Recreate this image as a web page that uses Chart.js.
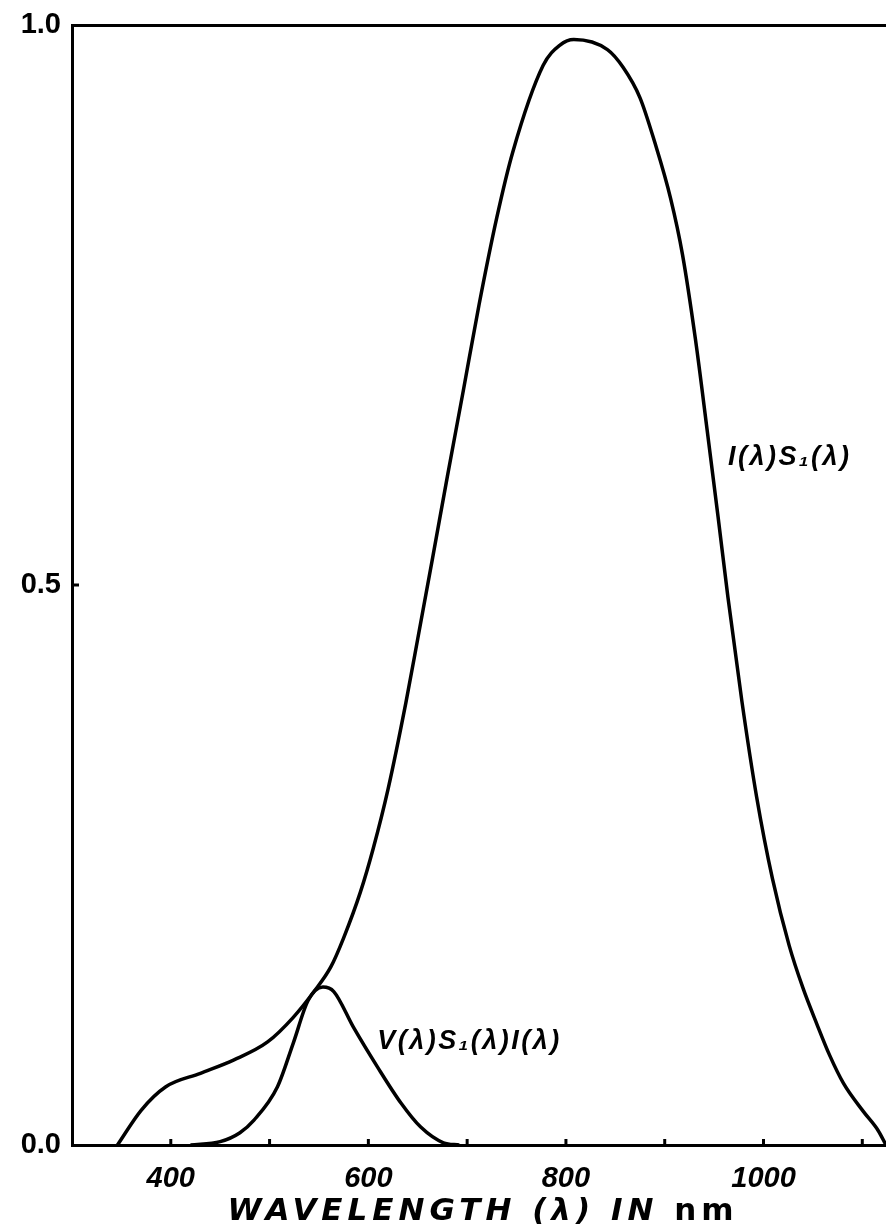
<!DOCTYPE html>
<html>
<head>
<meta charset="utf-8">
<script src="https://cdn.jsdelivr.net/npm/chart.js@4/dist/chart.umd.min.js"></script>
<style>
  html, body { margin: 0; padding: 0; background: #fff; }
  #chart { display: block; }
</style>
</head>
<body>
<canvas id="chart" width="886" height="1229"></canvas>
<script>
// wavelengths (nm) and relative values
var isWavelengths = [346, 370, 395, 430, 464, 498, 524, 545, 562, 575, 592, 605, 620, 638, 650, 665, 680, 696, 712, 730, 746, 777, 794, 808, 842, 858, 875, 890, 906, 918, 931, 943, 954, 964, 978, 993, 1009, 1026, 1040, 1054, 1067, 1081, 1101, 1116, 1124];
var isValues = [0, 0.031, 0.052, 0.064, 0.076, 0.092, 0.114, 0.137, 0.159, 0.185, 0.226, 0.265, 0.318, 0.395, 0.452, 0.524, 0.597, 0.673, 0.750, 0.828, 0.886, 0.964, 0.982, 0.987, 0.978, 0.962, 0.935, 0.895, 0.845, 0.795, 0.720, 0.638, 0.561, 0.489, 0.397, 0.311, 0.238, 0.178, 0.140, 0.108, 0.080, 0.055, 0.030, 0.013, 0];

var vsiWavelengths = [420, 450, 470, 484, 508, 524, 539, 554, 565, 585, 609, 633, 653, 676, 692];
var vsiValues = [0, 0.003, 0.011, 0.022, 0.052, 0.091, 0.129, 0.141, 0.137, 0.105, 0.070, 0.0375, 0.016, 0.002, 0];

var xTickLabels = [400, 600, 800, 1000];
var xTickMarks = [400, 500, 600, 700, 800, 900, 1000, 1100];
var yTickLabels = [0, 0.5, 1.0];

var curveLabels = [
    { text: 'I(λ)S₁(λ)', x: 964, y: 0.614 },
    { text: 'V(λ)S₁(λ)I(λ)', x: 609, y: 0.092 }
];
var axisTitle = ['WAVELENGTH (λ) IN', ' nm'];

function toPoints(xs, ys) {
    var pts = [];
    for (var i = 0; i < xs.length; i++) {
        pts.push({ x: xs[i], y: ys[i] });
    }
    return pts;
}

// short tick marks pointing into the plot, curve captions and the x title
var extrasPlugin = {
    id: 'extras',
    afterDatasetsDraw: function (chart) {
        var ctx = chart.ctx;
        var xs = chart.scales.x;
        var ys = chart.scales.y;
        var base = ys.getPixelForValue(0);
        ctx.save();
        ctx.strokeStyle = '#000';
        ctx.lineWidth = 3;
        xTickMarks.forEach(function (v) {
            var px = xs.getPixelForValue(v);
            ctx.beginPath();
            ctx.moveTo(px, base);
            ctx.lineTo(px, base - 6);
            ctx.stroke();
        });
        var mid = ys.getPixelForValue(0.5);
        ctx.beginPath();
        ctx.moveTo(xs.left, mid);
        ctx.lineTo(xs.left + 7, mid);
        ctx.stroke();

        ctx.fillStyle = '#000';
        ctx.letterSpacing = '2.5px';
        ctx.font = 'italic bold 27px "Liberation Sans", sans-serif';
        ctx.textBaseline = 'middle';
        ctx.textAlign = 'left';
        curveLabels.forEach(function (l) {
            ctx.fillText(l.text, xs.getPixelForValue(l.x), ys.getPixelForValue(l.y));
        });

        // axis title: italic caps, upright "nm"
        ctx.letterSpacing = '5px';
        ctx.textBaseline = 'alphabetic';
        var fontA = 'italic bold 31px "DejaVu Sans", sans-serif';
        var fontB = 'bold 31px "DejaVu Sans", sans-serif';
        ctx.font = fontA;
        var wA = ctx.measureText(axisTitle[0]).width;
        ctx.font = fontB;
        var wB = ctx.measureText(axisTitle[1]).width;
        var start = (xs.left + xs.right) / 2 - (wA + wB) / 2 + 4;
        var ty = chart.height - 9;
        ctx.font = fontA;
        ctx.fillText(axisTitle[0], start, ty);
        ctx.font = fontB;
        ctx.fillText(axisTitle[1], start + wA, ty);
        ctx.restore();
    }
};

var bgPlugin = {
    id: 'bg',
    beforeDraw: function (chart) {
        var ctx = chart.ctx;
        ctx.save();
        ctx.fillStyle = '#fff';
        ctx.fillRect(0, 0, chart.width, chart.height);
        ctx.restore();
    }
};

var ctx = document.getElementById('chart').getContext('2d');
var chart = new Chart(ctx, {
    type: 'line',
    data: {
        datasets: [{
            label: 'I(λ)S1(λ)',
            data: toPoints(isWavelengths, isValues),
            borderColor: '#000',
            borderWidth: 3.5,
            pointRadius: 0,
            cubicInterpolationMode: 'monotone',
            fill: false
        }, {
            label: 'V(λ)S1(λ)I(λ)',
            data: toPoints(vsiWavelengths, vsiValues),
            borderColor: '#000',
            borderWidth: 3.5,
            pointRadius: 0,
            cubicInterpolationMode: 'monotone',
            fill: false
        }]
    },
    options: {
        responsive: false,
        animation: false,
        layout: { padding: { top: 25, right: 0, left: 0, bottom: 0 } },
        plugins: {
            legend: { display: false },
            tooltip: { enabled: false }
        },
        scales: {
            x: {
                type: 'linear',
                min: 300,
                max: 1124,
                border: { display: true, color: '#000', width: 3 },
                grid: { display: false, drawTicks: false },
                ticks: {
                    stepSize: 100,
                    autoSkip: false,
                    maxRotation: 0,
                    padding: 17,
                    color: '#000',
                    font: { family: '"Liberation Sans", sans-serif', size: 29, style: 'italic', weight: 'bold' },
                    callback: function (value) {
                        return xTickLabels.indexOf(value) >= 0 ? String(value) : '';
                    }
                },
                // title text is drawn by extrasPlugin (needs letter spacing)
                title: { display: false },
                afterFit: function (scale) {
                    scale.height = 84;
                    scale.paddingLeft = 0;
                    scale.paddingRight = 0;
                }
            },
            y: {
                min: 0,
                max: 1,
                border: { display: true, color: '#000', width: 3 },
                grid: {
                    drawTicks: false,
                    lineWidth: 3,
                    color: function (c) {
                        return c.tick && c.tick.value === 1 ? '#000' : 'rgba(0,0,0,0)';
                    }
                },
                ticks: {
                    stepSize: 0.5,
                    padding: 11,
                    color: '#000',
                    font: { family: '"Liberation Sans", sans-serif', size: 29, weight: 'bold' },
                    callback: function (value) {
                        return yTickLabels.indexOf(value) >= 0 ? value.toFixed(1) : '';
                    }
                },
                afterFit: function (scale) {
                    scale.width = 72;
                    scale.paddingTop = 0;
                    scale.paddingBottom = 0;
                }
            }
        }
    },
    plugins: [bgPlugin, extrasPlugin]
});
</script>
</body>
</html>
